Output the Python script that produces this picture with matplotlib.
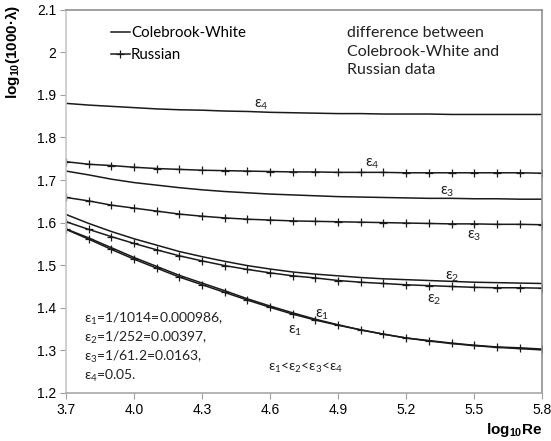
import matplotlib
matplotlib.use("Agg")
import matplotlib.pyplot as plt
from matplotlib.ticker import FormatStrFormatter

# log10(Re) grid (step 0.1)
log_re = [3.7, 3.8, 3.9, 4.0, 4.1, 4.2, 4.3, 4.4, 4.5, 4.6, 4.7,
          4.8, 4.9, 5.0, 5.1, 5.2, 5.3, 5.4, 5.5, 5.6, 5.7, 5.8]

# Colebrook-White, log10(1000*lambda)
cw_e1 = [1.585, 1.564, 1.541, 1.518, 1.497, 1.476, 1.458, 1.440, 1.421, 1.404, 1.388,
         1.373, 1.360, 1.348, 1.338, 1.329, 1.322, 1.316, 1.311, 1.307, 1.304, 1.301]
cw_e2 = [1.619, 1.598, 1.579, 1.562, 1.547, 1.532, 1.520, 1.509, 1.499, 1.491, 1.484,
         1.479, 1.475, 1.471, 1.468, 1.466, 1.464, 1.462, 1.460, 1.459, 1.458, 1.457]
cw_e3 = [1.721, 1.712, 1.702, 1.694, 1.688, 1.682, 1.677, 1.673, 1.670, 1.667, 1.665,
         1.663, 1.661, 1.660, 1.659, 1.658, 1.657, 1.657, 1.656, 1.656, 1.655, 1.655]
cw_e4 = [1.880, 1.876, 1.873, 1.870, 1.867, 1.865, 1.864, 1.862, 1.861, 1.859, 1.858,
         1.857, 1.856, 1.856, 1.855, 1.855, 1.855, 1.854, 1.854, 1.854, 1.854, 1.854]

# Russian data
ru_e1 = [1.584, 1.561, 1.537, 1.514, 1.493, 1.472, 1.454, 1.436, 1.418, 1.401, 1.385,
         1.371, 1.359, 1.348, 1.338, 1.329, 1.323, 1.317, 1.312, 1.308, 1.306, 1.303]
ru_e2 = [1.602, 1.584, 1.567, 1.551, 1.536, 1.522, 1.510, 1.499, 1.490, 1.482, 1.475,
         1.470, 1.464, 1.460, 1.457, 1.454, 1.452, 1.450, 1.448, 1.447, 1.447, 1.446]
ru_e3 = [1.659, 1.651, 1.641, 1.634, 1.627, 1.620, 1.615, 1.611, 1.608, 1.606, 1.604,
         1.603, 1.602, 1.601, 1.600, 1.599, 1.598, 1.597, 1.597, 1.596, 1.596, 1.595]
ru_e4 = [1.743, 1.737, 1.734, 1.730, 1.727, 1.725, 1.723, 1.722, 1.721, 1.720, 1.719,
         1.719, 1.718, 1.718, 1.718, 1.717, 1.717, 1.717, 1.717, 1.717, 1.717, 1.716]

x_ticks = [3.7, 4.0, 4.3, 4.6, 4.9, 5.2, 5.5, 5.8]
y_ticks = [1.2, 1.3, 1.4, 1.5, 1.6, 1.7, 1.8, 1.9, 2.0, 2.1]

eps_lines = ["ε$_1$=1/1014=0.000986,", "ε$_2$=1/252=0.00397,",
             "ε$_3$=1/61.2=0.0163,", "ε$_4$=0.05."]
note_lines = ["difference between", "Colebrook-White and", "Russian data"]

txt_font = "Lato"
num_font = "Liberation Sans"
line_col = "#1a1a1a"

plt.rcParams["mathtext.fontset"] = "custom"
plt.rcParams["mathtext.rm"] = "Lato"
plt.rcParams["mathtext.it"] = "Lato:italic"
plt.rcParams["mathtext.bf"] = "Liberation Sans:bold"

fig = plt.figure(figsize=(5.51, 4.41), dpi=100)
ax = fig.add_axes([0.120, 0.109, 0.864, 0.869])

for ys in [cw_e1, cw_e2, cw_e3, cw_e4]:
    ax.plot(log_re, ys, color=line_col, lw=1.1)
for ys in [ru_e1, ru_e2, ru_e3, ru_e4]:
    ax.plot(log_re, ys, color=line_col, lw=1.1, marker="+", markersize=6,
            markeredgewidth=0.9)

h1, = ax.plot([], [], color=line_col, lw=1.1)
h2, = ax.plot([], [], color=line_col, lw=1.1, marker="+", markersize=6, markeredgewidth=0.9)
ax.legend([h1, h2], ["Colebrook-White", "Russian"], loc="upper left",
          bbox_to_anchor=(0.065, 0.993), frameon=False, handlelength=1.3,
          handletextpad=0.05, labelspacing=0.55,
          prop={"family": txt_font, "size": 10.8})

ax.set_xlim(3.7, 5.8)
ax.set_ylim(1.2, 2.1)
ax.set_xticks(x_ticks)
ax.set_yticks(y_ticks)
ax.xaxis.set_major_formatter(FormatStrFormatter("%.1f"))
ax.set_yticklabels(["%g" % v for v in y_ticks])
for lab in ax.get_xticklabels() + ax.get_yticklabels():
    lab.set_fontfamily(num_font)
    lab.set_fontsize(10)
ax.tick_params(direction="out", length=4, color="#a0a0a0", pad=3)

for s in ["top", "right"]:
    ax.spines[s].set_color("#909090")
ax.spines["left"].set_color("#c8c8c8")
ax.spines["bottom"].set_color("#a8a8a8")
for s in ax.spines.values():
    s.set_linewidth(1.2)

fig.text(0.022, 0.99, r"log$_{\mathbf{10}}$(1000·λ)", rotation=90, ha="center", va="top",
         fontsize=11, fontweight="bold", family=num_font)
fig.text(0.985, 0.005, r"log$_{\mathbf{10}}$Re", ha="right", va="bottom",
         fontsize=11, fontweight="bold", family=num_font)

# curve labels
tk = dict(family=txt_font, fontsize=10.8, color="#222222")
ax.text(4.53, 1.870, "ε$_4$", **tk)
ax.text(5.02, 1.731, "ε$_4$", **tk)
ax.text(5.35, 1.666, "ε$_3$", **tk)
ax.text(5.47, 1.562, "ε$_3$", **tk)
ax.text(5.37, 1.465, "ε$_2$", **tk)
ax.text(5.29, 1.413, "ε$_2$", **tk)
ax.text(4.80, 1.377, "ε$_1$", **tk)
ax.text(4.68, 1.340, "ε$_1$", **tk)

tk_small = dict(tk, fontsize=10)
for i, s in enumerate(eps_lines):
    ax.text(0.038, 0.194 - i * 0.0495, s, transform=ax.transAxes,
            ha="left", va="center", **tk_small)
ax.text(0.424, 0.065, "ε$_1$<ε$_2$<ε$_3$<ε$_4$", transform=ax.transAxes,
        ha="left", va="center", **tk_small)
tk_note = dict(tk, fontsize=11.5)
for i, s in enumerate(note_lines):
    ax.text(0.590, 0.938 - i * 0.048, s, transform=ax.transAxes,
            ha="left", va="center", **tk_note)

fig.savefig("out.png", dpi=100)
